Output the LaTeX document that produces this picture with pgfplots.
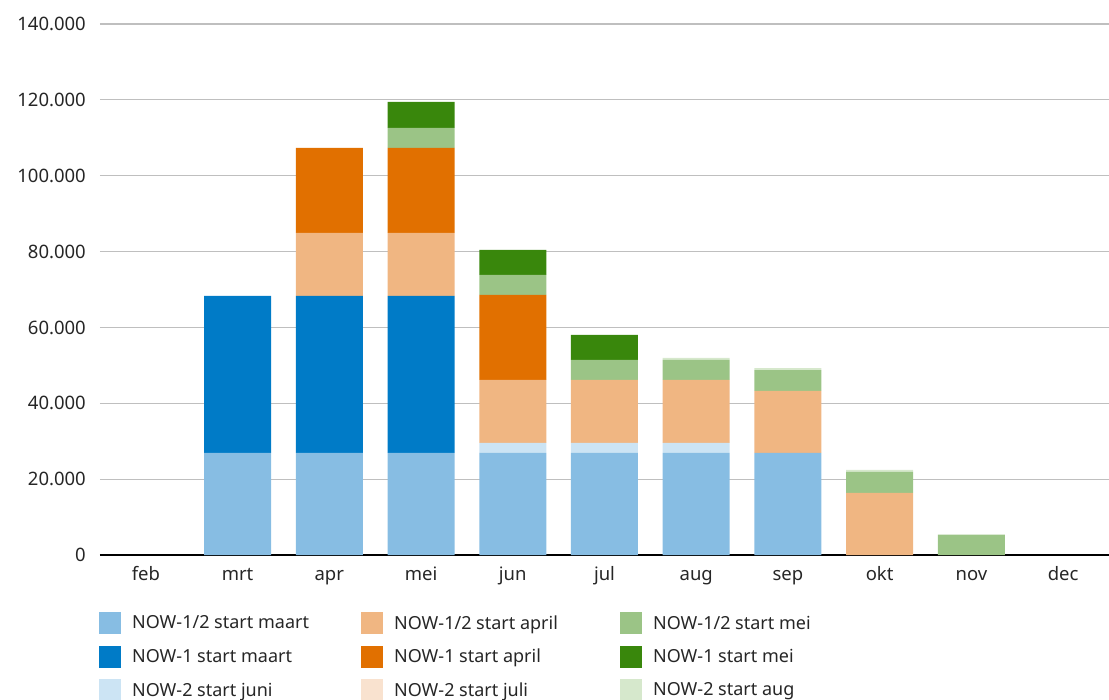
\documentclass[border=0pt]{standalone}
\usepackage{pgfplots}
\usepackage{pgfplotstable}
\pgfplotsset{compat=1.18}
\usepackage{fontspec}
\setmainfont{Noto Sans}
\definecolor{lb}{HTML}{87BDE3}
\definecolor{db}{HTML}{007BC7}
\definecolor{pb}{HTML}{CCE4F4}
\definecolor{lo}{HTML}{F0B682}
\definecolor{do}{HTML}{E17000}
\definecolor{po}{HTML}{F9E2CF}
\definecolor{lg}{HTML}{9BC486}
\definecolor{dg}{HTML}{39870C}
\definecolor{pg}{HTML}{D6E8CC}
\definecolor{gridc}{HTML}{BFBFBF}
\pgfplotstableread{
x  lb     db     pb    lo     do     po  lg    dg    pg
0  0      0      0     0      0      0   0     0     0
1  26900  41400  0     0      0      0   0     0     0
2  26900  41400  0     16610  22420  0   0     0     0
3  26900  41400  0     16610  22420  0   5270  6860  0
4  26900  0      2630  16620  22410  0   5280  6590  0
5  26900  0      2630  16620  0      0   5270  6590  0
6  26900  0      2630  16620  0      0   5270  0     530
7  26920  0      0     16320  0      0   5520  0     530
8  0      0      0     16400  0      0   5520  0     530
9  0      0      0     0      0      0   5350  0     0
10 0      0      0     0      0      0   0     0     0
}\datatable
\begin{document}
\begin{tikzpicture}
\useasboundingbox (-100bp,-145bp) rectangle (1009bp,555bp);
\begin{axis}[
  at={(0,0)}, anchor=south west,
  scale only axis,
  width=1009bp, height=531bp,
  ybar stacked, bar width=67bp,
  xmin=-0.5, xmax=10.5,
  ymin=0, ymax=140000,
  xtick=data,
  xticklabels={feb,mrt,apr,mei,jun,jul,aug,sep,okt,nov,dec},
  ytick={0,20000,40000,60000,80000,100000,120000,140000},
  yticklabels={0,20.000,40.000,60.000,80.000,100.000,120.000,140.000},
  scaled y ticks=false,
  major tick length=0pt,
  ymajorgrids,
  grid style={gridc, line width=1.2bp},
  axis x line*=bottom,
  axis y line*=left,
  x axis line style={black, line width=1.6bp, -},
  y axis line style={draw=none},
  tick label style={font=\fontsize{18.5bp}{22bp}\selectfont, text=black!85},
  yticklabel style={anchor=east, inner sep=0pt, xshift=-14bp},
  xticklabel style={anchor=north, inner sep=0pt, yshift=-12bp, text height=13bp, text depth=4bp},
  every axis plot/.append style={draw=none},
  legend columns=3,
  transpose legend,
  legend cell align=left,
  legend image code/.code={\fill[#1] (0bp,-11bp) rectangle (22bp,11bp);},
  legend style={draw=none, fill=none, at={(-4bp,-55bp)}, anchor=north west,
    font=\fontsize{18bp}{20bp}\selectfont, text=black!85,
    row sep=11.5bp,
    /tikz/every odd column/.append style={column sep=11bp},
    /tikz/every even column/.append style={column sep=0bp},
    nodes={inner sep=0pt}},
]
\addplot[fill=lb] table[x=x,y=lb] {\datatable};
\addlegendentry{\makebox[229bp][l]{NOW-1/2 start maart}}
\addplot[fill=db] table[x=x,y=db] {\datatable};
\addlegendentry{\makebox[229bp][l]{NOW-1 start maart}}
\addplot[fill=pb] table[x=x,y=pb] {\datatable};
\addlegendentry{\makebox[229bp][l]{NOW-2 start juni}}
\addplot[fill=lo] table[x=x,y=lo] {\datatable};
\addlegendentry{\makebox[226bp][l]{NOW-1/2 start april}}
\addplot[fill=do] table[x=x,y=do] {\datatable};
\addlegendentry{\makebox[226bp][l]{NOW-1 start april}}
\addplot[fill=po] table[x=x,y=po] {\datatable};
\addlegendentry{\makebox[226bp][l]{NOW-2 start juli}}
\addplot[fill=lg] table[x=x,y=lg] {\datatable};
\addlegendentry{NOW-1/2 start mei}
\addplot[fill=dg] table[x=x,y=dg] {\datatable};
\addlegendentry{NOW-1 start mei}
\addplot[fill=pg] table[x=x,y=pg] {\datatable};
\addlegendentry{NOW-2 start aug}
\end{axis}
\end{tikzpicture}
\end{document}
